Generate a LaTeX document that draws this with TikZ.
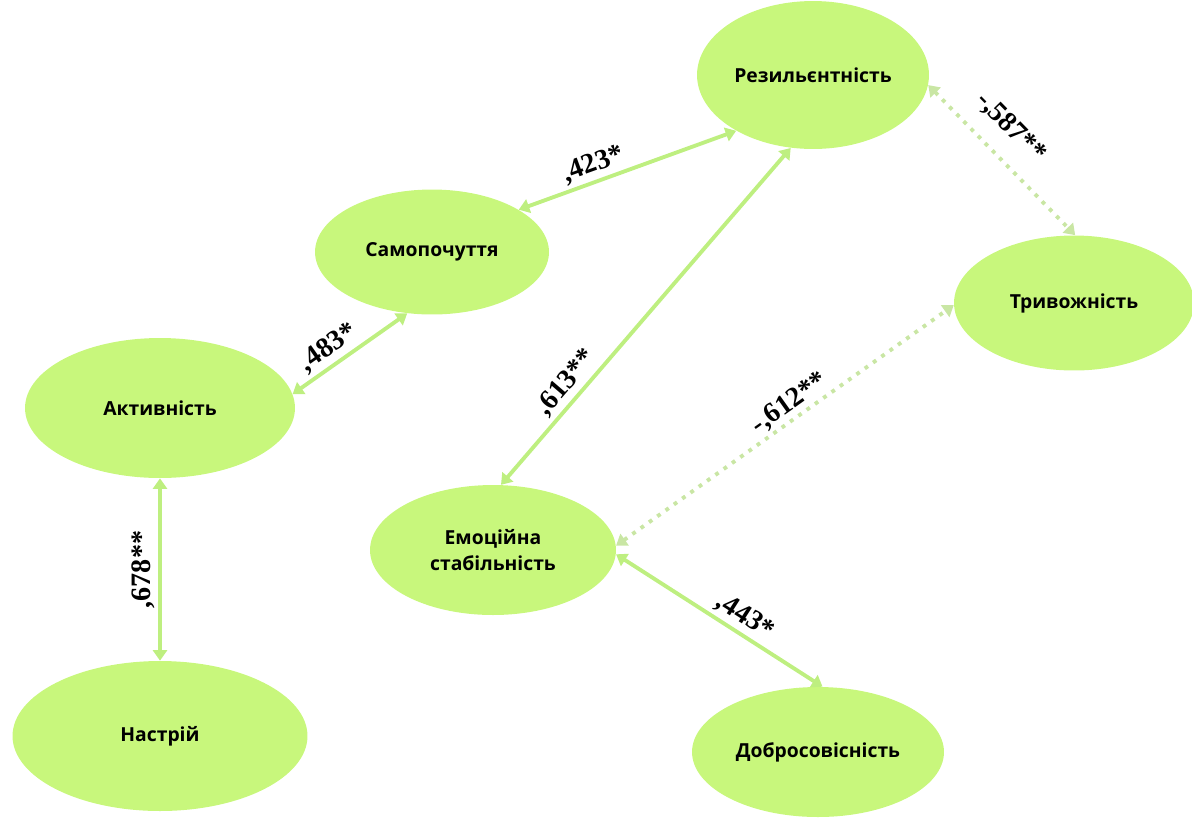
\documentclass[tikz,border=0pt]{standalone}
\usepackage{fontspec}
\setmainfont{Liberation Serif}
\newfontfamily\nodefont{Open Sans}
\usetikzlibrary{shapes.geometric,arrows.meta}
\definecolor{limefill}{HTML}{C8F77C}
\definecolor{limeline}{HTML}{BEEF80}
\definecolor{limedot}{HTML}{C9E6A4}

\begin{document}
\begin{tikzpicture}[x=0.02cm,y=-0.02cm,
      var/.style={ellipse,fill=limefill,inner sep=0pt,align=center,
        font=\nodefont\bfseries\fontsize{11}{15}\selectfont},
      link/.style={{Triangle[length=6pt,width=8pt]}-{Triangle[length=6pt,width=8pt]},
        draw=limeline,line width=2.2pt},
      neglink/.style={link,draw=limedot,dash pattern=on 2.2pt off 3.6pt},
      coef/.style={sloped,above,inner sep=2pt,font=\bfseries\fontsize{16}{16}\selectfont},
    ]
        \useasboundingbox (0,0) rectangle (1192,819);
        \node[var,minimum width=4.64cm,minimum height=2.96cm] (res) at (813,75) {Резильєнтність};
        \node[var,minimum width=4.68cm,minimum height=2.5cm] (samo) at (432,252) {Самопочуття};
        \node[var,minimum width=4.8cm,minimum height=2.7cm] (tryv) at (1074,303) {Тривожність};
        \node[var,minimum width=5.4cm,minimum height=2.8cm] (akt) at (160,408) {Активність};
        \node[var,minimum width=4.92cm,minimum height=2.6cm] (emo) at (493,550) {Емоційна\\стабільність};
        \node[var,minimum width=5.9cm,minimum height=3cm] (nastr) at (160,736) {Настрій};
        \node[var,minimum width=5.04cm,minimum height=2.6cm] (dobr) at (818,752) {Добросовісність};

        \draw[link] (nastr.north) -- node[coef,pos=0.5] {,678**} (akt.south);
        \draw[link] (akt.6) -- node[coef,pos=0.4] {,483*} (samo.248);
        \draw[link] (samo.26) -- node[coef,pos=0.37] {,423*} (res.216);
        \draw[link] (emo.83) -- node[coef,pos=0.27] {,613**} (res.253);
        \draw[neglink] (res.-5) -- node[coef,pos=0.42,above=7pt] {-,587**} (tryv.89);
        \draw[neglink] (emo.2) -- node[coef,pos=0.54,above=-1pt] {-,612**} (tryv.181);
        \draw[link] (emo.-2) -- node[coef,pos=0.58] {,443*} (dobr.86);
    \end{tikzpicture}
\end{document}
